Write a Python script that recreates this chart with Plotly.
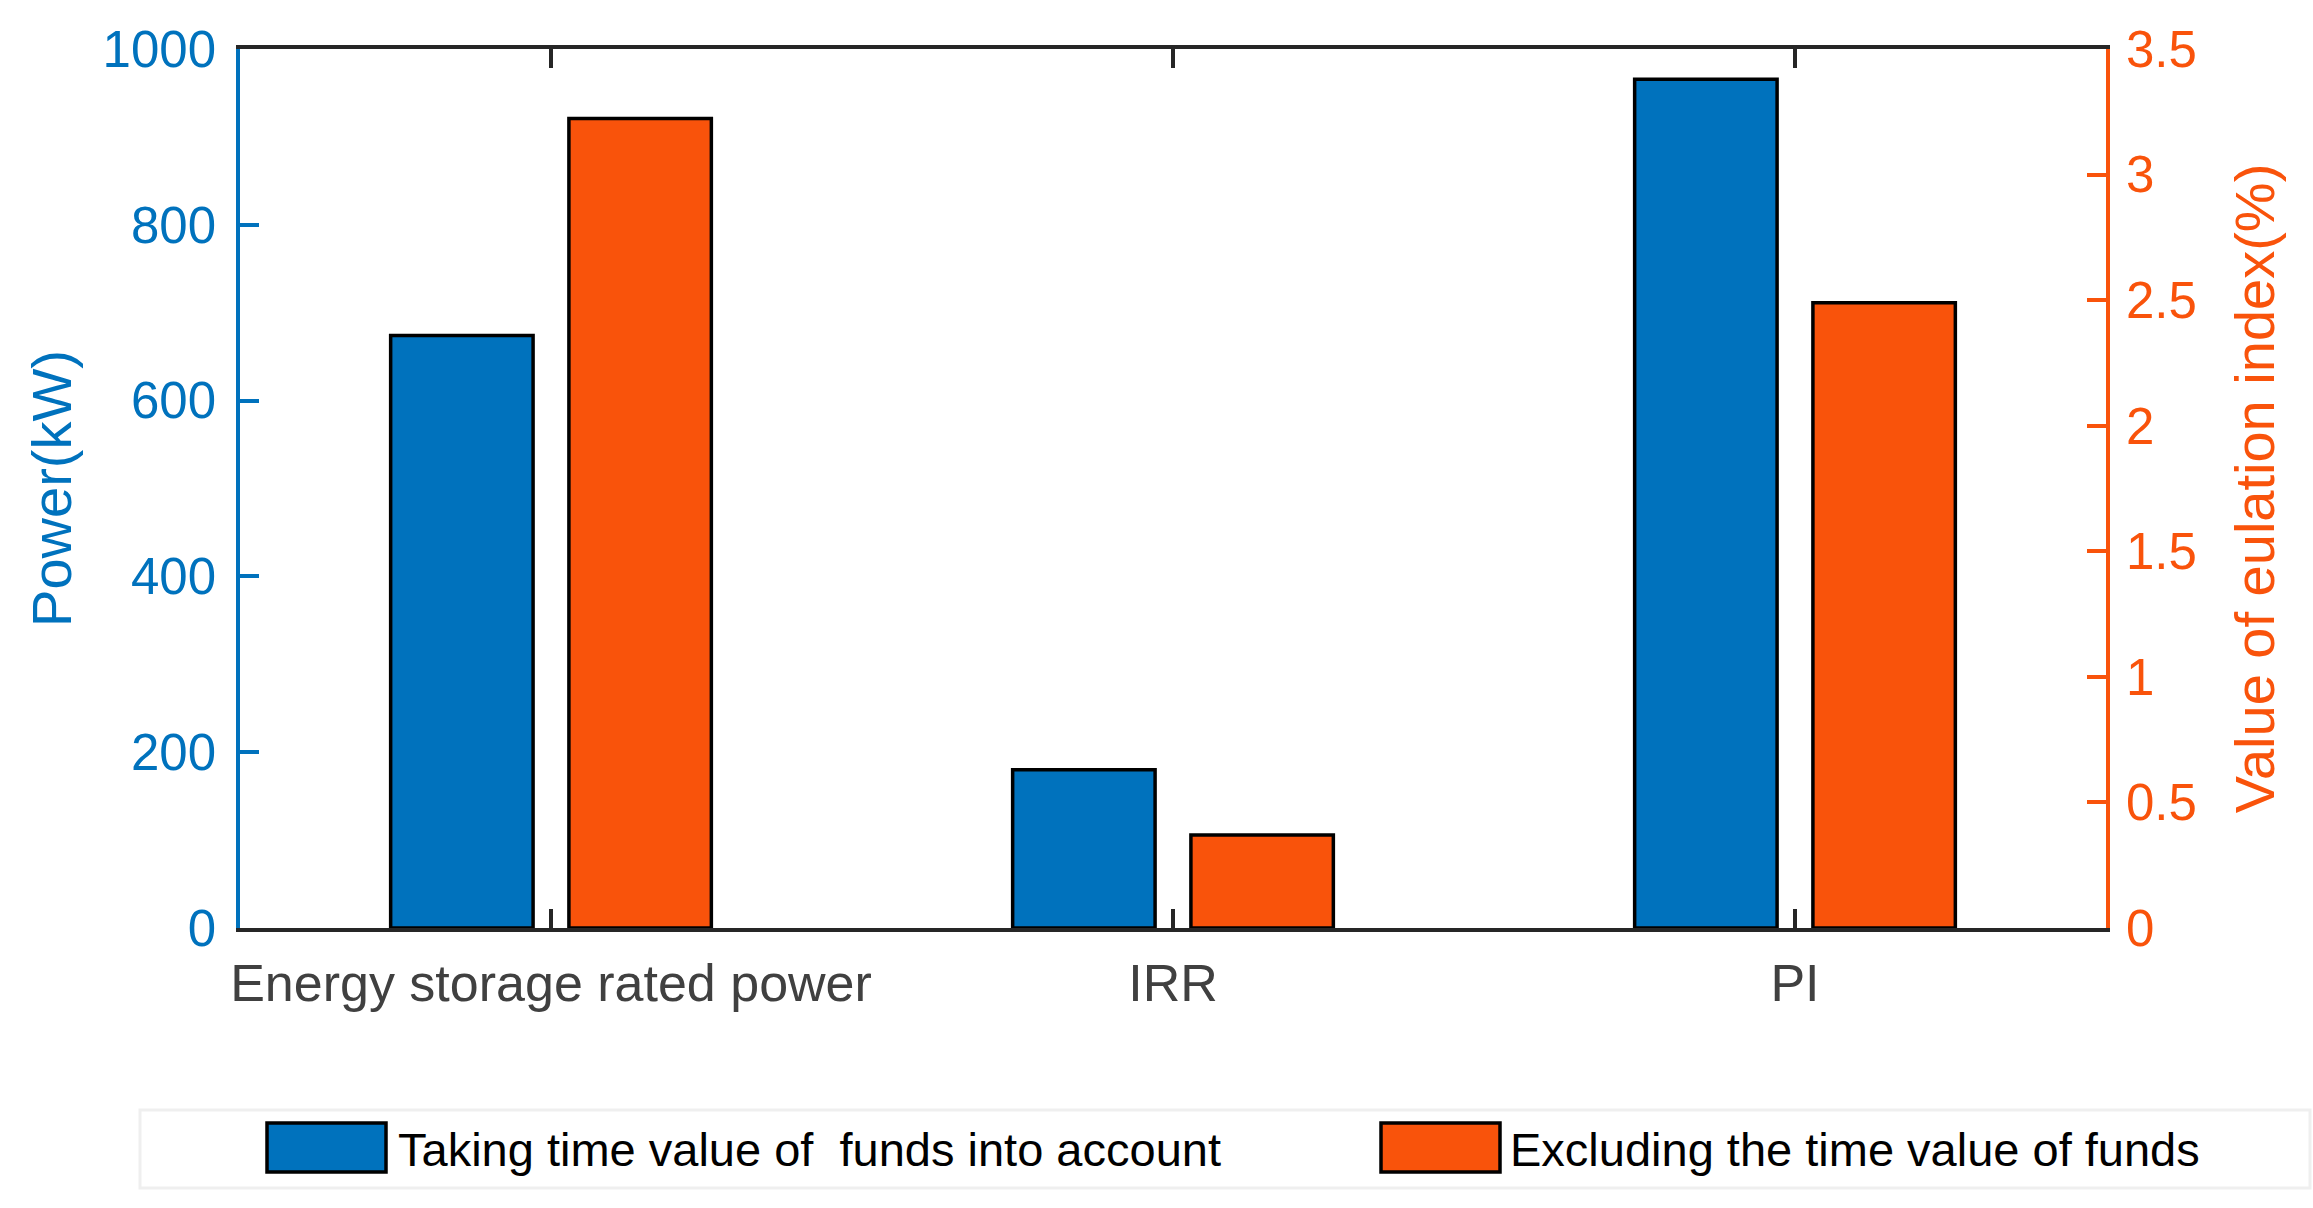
import plotly.graph_objects as go

categories = ["Energy storage rated power", "IRR", "PI"]
series_names = ["Taking time value of\u00a0 funds into account", "Excluding the time value of funds"]
# Power (kW) – left axis
power_taking = [674]
power_excluding = [921]
# Evaluation indices (%) – right axis
index_categories = ["IRR", "PI"]
index_taking = [0.63, 3.38]
index_excluding = [0.37, 2.49]

left_ticks = [0, 200, 400, 600, 800, 1000]
right_ticks = [0, 0.5, 1, 1.5, 2, 2.5, 3, 3.5]

BLUE = "#0072BD"
ORANGE = "#F9530B"
AXC = "#262626"
FONT = "Liberation Sans, Arial, Helvetica, sans-serif"

W, H = 2313, 1208
ML, MR, MT, MB = 240, 207, 49, 280
PW, PH = W - ML - MR, H - MT - MB

bar_w = 0.229
off_blue = -0.1433 - bar_w / 2
off_orange = 0.1433 - bar_w / 2
bar_line = dict(color="black", width=3.5)

fig = go.Figure()
fig.add_trace(go.Bar(x=categories[:1], y=power_taking, name=series_names[0],
                     marker=dict(color=BLUE, line=bar_line), width=bar_w, offset=off_blue,
                     showlegend=False, yaxis="y"))
fig.add_trace(go.Bar(x=categories[:1], y=power_excluding, name=series_names[1],
                     marker=dict(color=ORANGE, line=bar_line), width=bar_w, offset=off_orange,
                     showlegend=False, yaxis="y"))
fig.add_trace(go.Bar(x=index_categories, y=index_taking, name=series_names[0],
                     marker=dict(color=BLUE, line=bar_line), width=bar_w, offset=off_blue,
                     showlegend=False, yaxis="y2"))
fig.add_trace(go.Bar(x=index_categories, y=index_excluding, name=series_names[1],
                     marker=dict(color=ORANGE, line=bar_line), width=bar_w, offset=off_orange,
                     showlegend=False, yaxis="y2"))

def px_x(p):
    return (p - ML) / PW

def px_y(p):
    return (H - MB - p) / PH

shapes = []
annotations = []
# legend frame
shapes.append(dict(type="rect", xref="paper", yref="paper",
                   x0=px_x(140), x1=px_x(2310), y0=px_y(1188), y1=px_y(1110),
                   line=dict(color="#EFEFEF", width=3), fillcolor="rgba(0,0,0,0)", layer="above"))
legend_items = [(series_names[0], BLUE, 267, 396), (series_names[1], ORANGE, 1381, 1508)]
for name, col, sx, tx in legend_items:
    shapes.append(dict(type="rect", xref="paper", yref="paper",
                       x0=px_x(sx), x1=px_x(sx + 119), y0=px_y(1172), y1=px_y(1123),
                       line=dict(color="black", width=3.5), fillcolor=col, layer="above"))
    annotations.append(dict(xref="paper", yref="paper", x=px_x(tx), y=px_y(1149),
                            xanchor="left", yanchor="middle", text=name, showarrow=False,
                            font=dict(family=FONT, size=47, color="black")))

fig.update_layout(
    width=W, height=H,
    margin=dict(l=ML, r=MR, t=MT, b=MB, autoexpand=False),
    paper_bgcolor="white", plot_bgcolor="white",
    barmode="overlay",
    font=dict(family=FONT),
    xaxis=dict(type="category", categoryorder="array", categoryarray=categories,
               range=[-0.5, 2.5], showgrid=False, zeroline=False,
               showline=True, linecolor=AXC, linewidth=3.5, mirror="ticks",
               ticks="inside", ticklen=19, tickwidth=3.5, tickcolor=AXC,
               ticklabelstandoff=7,
               tickfont=dict(family=FONT, size=52, color="#404040")),
    yaxis=dict(range=[0, 1000], tickvals=left_ticks, showgrid=False, zeroline=False,
               showline=True, linecolor=BLUE, linewidth=3.5,
               ticks="inside", ticklen=19, tickwidth=3.5, tickcolor=BLUE,
               ticklabelstandoff=10,
               tickfont=dict(family=FONT, size=51, color=BLUE),
               title=dict(text="Power(kW)", font=dict(family=FONT, size=56, color=BLUE), standoff=14)),
    yaxis2=dict(range=[0, 3.5], tickvals=right_ticks, overlaying="y", side="right",
                showgrid=False, zeroline=False,
                showline=True, linecolor=ORANGE, linewidth=3.5,
                ticks="inside", ticklen=19, tickwidth=3.5, tickcolor=ORANGE,
                ticklabelstandoff=6,
                tickfont=dict(family=FONT, size=51, color=ORANGE),
                title=dict(text="Value of eulation index(%)", font=dict(family=FONT, size=56, color=ORANGE), standoff=40)),
    shapes=shapes, annotations=annotations,
    showlegend=False,
)

fig.write_html("out.html", config={"displayModeBar": False},
               post_script="document.body.style.margin='0';document.body.style.overflow='hidden';")
